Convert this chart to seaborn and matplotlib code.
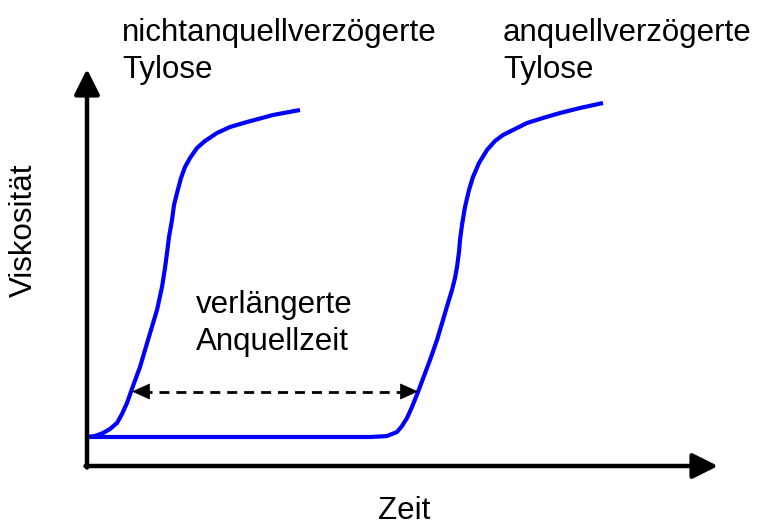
import numpy as np
import matplotlib
matplotlib.use('Agg')
import matplotlib.pyplot as plt
import seaborn as sns

# Schematic data (arbitrary units: Zeit / Viskosität)
zeit_nicht = [0, 8, 16, 23, 30, 35, 40, 46, 53, 61, 70, 75, 78, 80, 82, 85, 87,
              90, 94, 98, 103, 110, 118, 130, 143, 160, 186, 213]
visk_nicht = [29, 30, 33, 37, 43, 52, 63, 80, 99, 126, 156, 179, 198, 213, 229,
              246, 261, 273, 288, 299, 308, 318, 325, 333, 339, 344, 351, 356]

zeit_verz = [0, 100, 200, 283, 293, 300, 305, 310, 315, 320, 325, 331, 337, 343,
             350, 356, 361, 365, 368, 370, 372, 373, 375, 378, 382, 386, 392, 400,
             408, 416, 428, 440, 456, 473, 493, 516]
visk_verz = [29, 29, 29, 29, 29.5, 30, 32, 34, 40, 48, 59, 74, 90, 106,
             126, 146, 163, 176, 188, 199, 214, 226, 241, 259, 276, 289, 303, 316,
             325, 331, 337, 343, 348, 353, 358, 363]

x_max = 631       # end of Zeit axis arrow
y_max = 397       # end of Viskosität axis arrow
delay_y = 74.5
delay_start, delay_end = 45, 331

labels = {
    'nicht': 'nichtanquellverzögerte\nTylose',
    'verz': 'anquellverzögerte\nTylose',
    'delay': 'verlängerte\nAnquellzeit',
}

sns.set_style('white')
plt.rcParams['font.family'] = ['Liberation Sans', 'DejaVu Sans']

fig = plt.figure(figsize=(7.58, 5.25), dpi=100)
ax = fig.add_axes([0, 0, 1, 1])

for xs, ys in [(zeit_nicht, visk_nicht), (zeit_verz, visk_verz)]:
    sns.lineplot(x=xs, y=ys, ax=ax, color='#0000ff', lw=3,
                 estimator=None, sort=False,
                 solid_joinstyle='round', solid_capstyle='butt')

# axes with arrow heads
arrow_kw = dict(arrowstyle='-|>,head_length=1.1,head_width=0.55', color='black',
                lw=3.2, shrinkA=0, shrinkB=0, mutation_scale=14)
ax.annotate('', xy=(0, y_max), xytext=(0, -1.5), arrowprops=arrow_kw)
ax.annotate('', xy=(x_max, 0), xytext=(-1.5, 0), arrowprops=arrow_kw)

# dashed double arrow for the delay
ax.plot([delay_start + 10, delay_end - 10], [delay_y, delay_y], color='black',
        lw=2, linestyle=(0, (3.6, 2.5)))
head_kw = dict(arrowstyle='-|>,head_length=1.0,head_width=0.45', color='black',
               lw=0.5, shrinkA=0, shrinkB=0, mutation_scale=12)
ax.annotate('', xy=(delay_start, delay_y), xytext=(delay_start + 14, delay_y), arrowprops=head_kw)
ax.annotate('', xy=(delay_end, delay_y), xytext=(delay_end - 14, delay_y), arrowprops=head_kw)

fs = 22.5
txt = dict(fontsize=fs, color='black', linespacing=1.3)
# multi-line texts: baseline refers to the last line
ax.text(35, 388, labels['nicht'], ha='left', va='baseline', **txt)
ax.text(416, 388, labels['verz'], ha='left', va='baseline', **txt)
ax.text(109, 116, labels['delay'], ha='left', va='baseline', **txt)
ax.text(317, -53, 'Zeit', ha='center', va='baseline', **txt)
ax.text(-63, 236, 'Viskosität', ha='center', va='center', rotation=90, **txt)

ax.set_xlim(-87, 671)
ax.set_ylim(-59, 466)
ax.axis('off')

fig.savefig('out.png', dpi=100, facecolor='white')
